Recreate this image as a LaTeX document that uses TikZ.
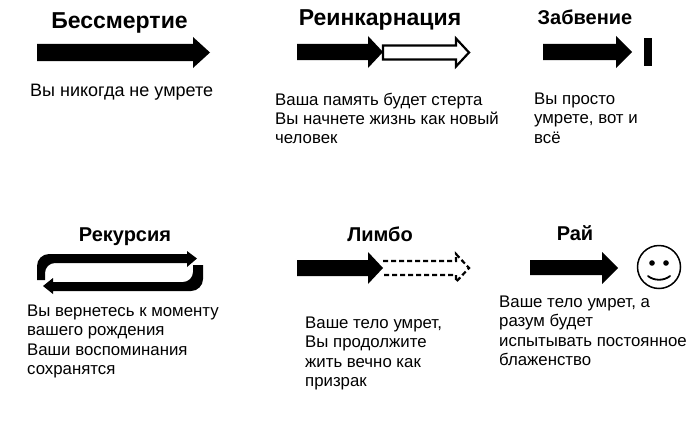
\documentclass[tikz,border=0pt]{standalone}
\usepackage{fontspec}
\setmainfont{Liberation Sans}
\begin{document}
\begin{tikzpicture}[x=1pt,y=-1pt,
  title/.style={font=\bfseries\fontsize{20}{22}\selectfont,anchor=base,inner sep=0pt},
  bigtitle/.style={title,font=\bfseries\fontsize{23}{25}\selectfont},
  body/.style={font=\fontsize{16.8}{19.2}\selectfont,anchor=north west,inner sep=0pt,align=left},
  solidarrow/.style={fill=black,draw=none},
  hollowarrow/.style={fill=white,draw=black,line width=2.2pt,line join=miter},
  dasharrow/.style={fill=white,draw=black,line width=2.2pt,dash pattern=on 5pt off 3pt}]
\useasboundingbox (0,0) rectangle (700,428);
% titles
\node[bigtitle] (t1) at (119.5,29) {Бессмертие};
\node[bigtitle] (t2) at (380,25.5) {Реинкарнация};
\node[title] (t3) at (585,25) {Забвение};
\node[title] (t4) at (125,241) {Рекурсия};
\node[title] (t5) at (380,241) {Лимбо};
\node[title] (t6) at (575,240) {Рай};
% arrows, top row
\fill[solidarrow] (37,44)--(193,44)--(193,37)--(210,52.5)--(193,68)--(193,61)--(37,61)--cycle;
\draw[hollowarrow] (383,45.5)--(456,45.5)--(456,38.5)--(469,52.5)--(456,66.5)--(456,59.5)--(383,59.5)--cycle;
\fill[solidarrow] (297,44)--(368,44)--(368,36)--(383,52)--(368,68)--(368,60)--(297,60)--cycle;
\fill[solidarrow] (543,44)--(616,44)--(616,36)--(632,52)--(616,68)--(616,60)--(543,60)--cycle;
\fill[solidarrow] (644,38) rectangle (652,66);
% recursion
\fill[solidarrow] (37,280)--(37,266) arc[start angle=180,end angle=270,radius=12]--(187,254)--(187,251)--(197,258.5)--(187,267)--(187,263)--(55,263) arc[start angle=270,end angle=180,radius=10]--(45,280)--cycle;
\fill[solidarrow] (203,265)--(203,279) arc[start angle=0,end angle=90,radius=12]--(53,291)--(53,294)--(43,286)--(53,278)--(53,282)--(183,282) arc[start angle=90,end angle=0,radius=10]--(193,265)--cycle;
% limbo
\draw[dasharrow] (383,261)--(456,261)--(456,254)--(469,268)--(456,282)--(456,275)--(383,275);
\fill[solidarrow] (297,260)--(368,260)--(368,252)--(383,268)--(368,284)--(368,276)--(297,276)--cycle;
% paradise
\fill[solidarrow] (530,260)--(602,260)--(602,252)--(618,268)--(602,284)--(602,275)--(530,275)--cycle;
\draw[line width=1.5pt] (659,267) circle[radius=21.5];
\fill (652,263) circle[radius=2.8];
\fill (666,263) circle[radius=2.8];
\draw[line width=1.8pt,line cap=round] (648,276) .. controls (654,281) and (664,281) .. (670,276);
% texts
\node[body,font=\fontsize{18}{20}\selectfont] (b1) at (30,84) {Вы никогда не умрете};
\node[body] (b2) at (275,93) {Ваша память будет стерта\\Вы начнете жизнь как новый\\человек};
\node[body] (b3) at (534,93) {Вы просто\\умрете, вот и\\всё};
\node[body] (b4) at (27,305) {Вы вернетесь к моменту\\вашего рождения\\Ваши воспоминания\\сохранятся};
\node[body] (b5) at (305,317) {Ваше тело умрет,\\Вы продолжите\\жить вечно как\\призрак};
\node[body] (b6) at (499,296) {Ваше тело умрет, а\\разум будет\\испытывать постоянное\\блаженство};
\end{tikzpicture}
\end{document}
